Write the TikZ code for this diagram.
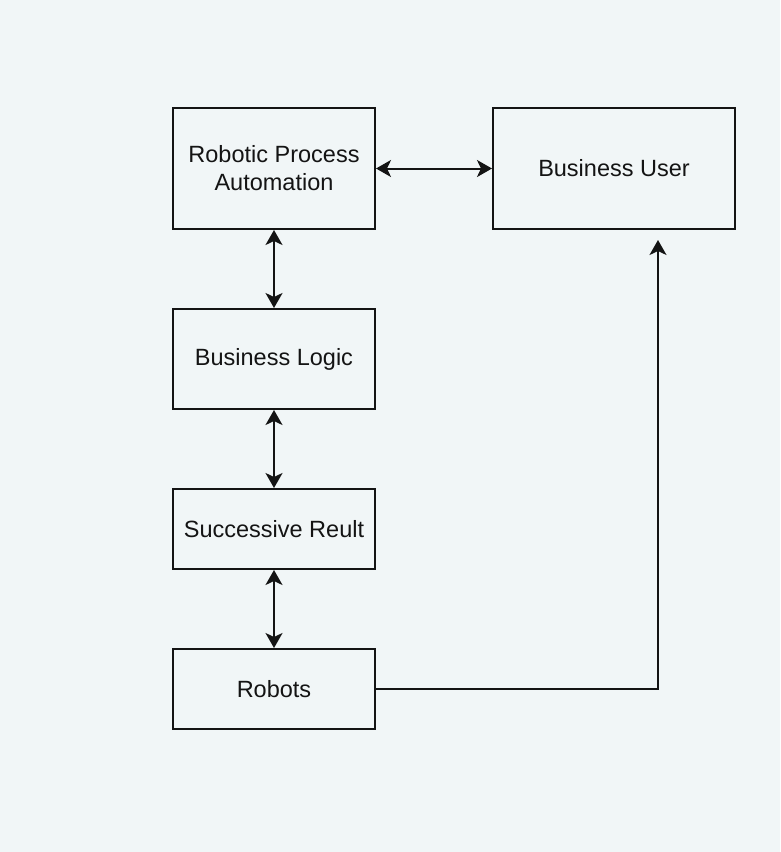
\documentclass[tikz,border=0pt]{standalone}
\usepackage{fontspec}
\setmainfont{Liberation Sans}
\usetikzlibrary{arrows.meta}
\definecolor{bg}{HTML}{F1F6F7}
\definecolor{ink}{HTML}{141414}
\begin{document}
\begin{tikzpicture}[x=1pt,y=-1pt,
  box/.style={draw=ink,line width=2pt,fill=bg,inner sep=0pt,align=center,
    font=\fontsize{23.5}{28}\selectfont,text=ink},
  tipshape/.style={},
  link/.style={draw=ink,line width=2pt,
    {Stealth[length=15pt,width=17pt,inset=4pt]}-{Stealth[length=15pt,width=17pt,inset=4pt]}},
  oneway/.style={draw=ink,line width=2pt,-{Stealth[length=15pt,width=17pt,inset=4pt]}}]
\fill[bg] (0,0) rectangle (780,852);
\useasboundingbox (0,0) rectangle (780,852);
\node[box,minimum width=202pt,minimum height=121pt] (rpa) at (274,168.5) {Robotic Process\\Automation};
\node[box,minimum width=242pt,minimum height=121pt] (bu) at (614,168.5) {Business User};
\node[box,minimum width=202pt,minimum height=100pt] (bl) at (274,359) {Business Logic};
\node[box,minimum width=202pt,minimum height=80pt] (sr) at (274,529) {Successive Reult};
\node[box,minimum width=202pt,minimum height=80pt] (rb) at (274,689) {Robots};
\coordinate (tip) at (658,240);
\draw[link] (rpa.east) -- (bu.west);
\draw[link] (rpa.south) -- (bl.north);
\draw[link] (bl.south) -- (sr.north);
\draw[link] (sr.south) -- (rb.north);
\draw[oneway] (rb.east) -| (tip);
\end{tikzpicture}
\end{document}
